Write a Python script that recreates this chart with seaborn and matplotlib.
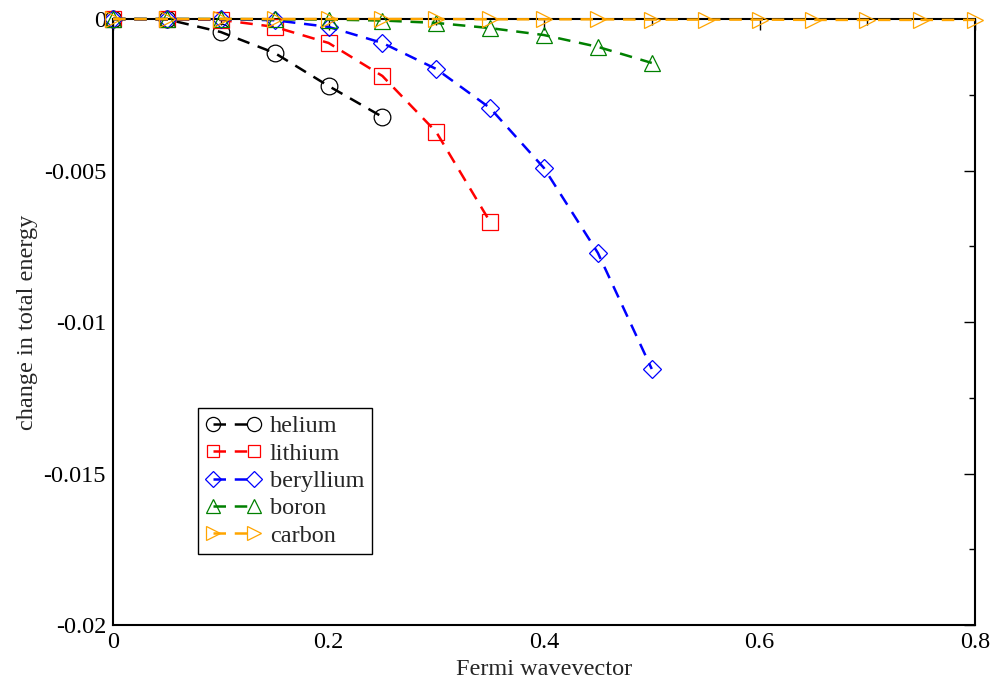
import matplotlib
matplotlib.use("Agg")
import matplotlib.pyplot as plt
import seaborn as sns

sns.set_theme(style="white")
plt.rcParams["font.family"] = ["Liberation Serif", "DejaVu Serif"]
plt.rcParams["axes.unicode_minus"] = False

# data
he_x = [0, 0.05, 0.1, 0.15, 0.2, 0.25]
he_y = [0, -0.00001, -0.00043, -0.00112, -0.00221, -0.00323]

li_x = [0, 0.05, 0.1, 0.15, 0.2, 0.25, 0.3, 0.35]
li_y = [0, -0.00001, -0.00003, -0.00026, -0.00079, -0.00188, -0.00373, -0.0067]

be_x = [0, 0.05, 0.1, 0.15, 0.2, 0.25, 0.3, 0.35, 0.4, 0.45, 0.5]
be_y = [0, 0, -0.00001, -0.00004, -0.00026, -0.00079, -0.00165, -0.00294,
        -0.00492, -0.00772, -0.01155]

b_x = [0, 0.05, 0.1, 0.15, 0.2, 0.25, 0.3, 0.35, 0.4, 0.45, 0.5]
b_y = [0, 0, 0, -0.00001, -0.00002, -0.00005, -0.00013, -0.0003,
       -0.00053, -0.00092, -0.00145]

c_x = [0, 0.05, 0.1, 0.15, 0.2, 0.25, 0.3, 0.35, 0.4, 0.45, 0.5,
       0.55, 0.6, 0.65, 0.7, 0.75, 0.8]
c_y = [0, 0, 0, 0, 0, 0, 0, -0.00001, -0.00001, -0.00001, -0.00002,
       -0.00002, -0.00002, -0.00003, -0.00003, -0.00003, -0.00003]

x_ticks = [0, 0.2, 0.4, 0.6, 0.8]
x_labels = ["0", "0.2", "0.4", "0.6", "0.8"]
y_ticks = [-0.02, -0.015, -0.01, -0.005, 0]
y_labels = ["-0.02", "-0.015", "-0.01", "-0.005", "0"]

series = [
    ("helium", he_x, he_y, "black", "o", 12),
    ("lithium", li_x, li_y, "red", "s", 11),
    ("beryllium", be_x, be_y, "blue", "D", 9),
    ("boron", b_x, b_y, "green", "^", 12),
    ("carbon", c_x, c_y, "orange", ">", 12),
]

fig = plt.figure(figsize=(9.94, 6.81), dpi=100)
ax = fig.add_axes([0.1137, 0.0822, 0.8672, 0.8899])

for name, xs, ys, col, mk, ms in series:
    sns.lineplot(x=xs, y=ys, ax=ax, color=col, marker=mk, markersize=ms,
                 markerfacecolor="none", markeredgecolor=col, markeredgewidth=0.9,
                 linestyle=(0, (5, 3.5)), linewidth=1.8, label=name,
                 clip_on=False, zorder=3)

ax.set_xlim(0, 0.8)
ax.set_ylim(-0.02, 0)
ax.set_xticks(x_ticks, x_labels)
ax.set_xticks([0.1, 0.3, 0.5, 0.7], minor=True)
ax.set_yticks(y_ticks, y_labels)
ax.set_yticks([-0.0175, -0.0125, -0.0075, -0.0025], minor=True)
ax.tick_params(which="both", direction="in", top=True, right=True,
               colors="black", labelsize=17.5, width=1)
ax.tick_params(which="major", length=8, pad=5)
ax.tick_params(which="minor", length=4)
for s in ax.spines.values():
    s.set_color("black")
    s.set_linewidth(1.5)
    s.set_zorder(2)

ax.set_xlabel("Fermi wavevector", fontsize=17.5, labelpad=4)
ax.set_ylabel("change in total energy", fontsize=17.5, labelpad=4)

leg = ax.legend(loc="upper left", bbox_to_anchor=(0.0986, 0.358),
                borderaxespad=0, numpoints=2, handlelength=2.3,
                fontsize=17.5, labelspacing=0.22, handletextpad=0.35,
                borderpad=0.3, fancybox=False, framealpha=1,
                edgecolor="black", markerscale=0.85)
leg.get_frame().set_linewidth(1.0)

fig.savefig("out.png", dpi=100)
